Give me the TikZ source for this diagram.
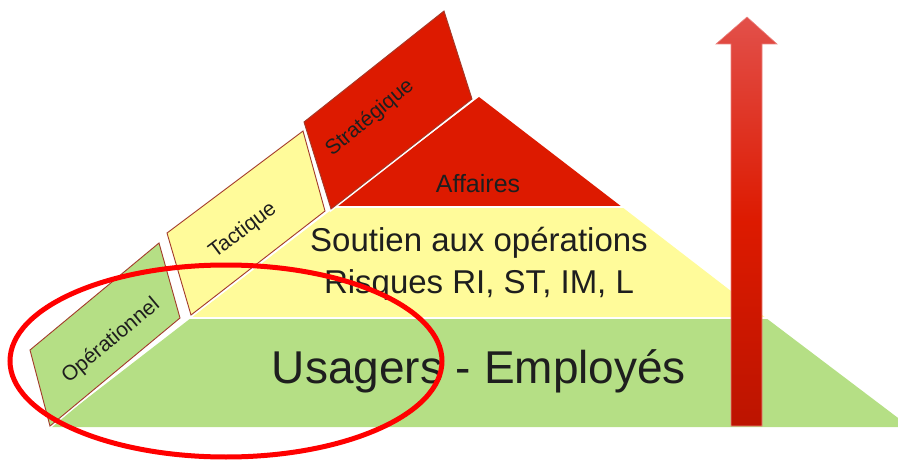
\documentclass[tikz,border=0pt]{standalone}
\usepackage{fontspec}
\setmainfont{Liberation Sans}

\definecolor{vert}{HTML}{B5DF85}
\definecolor{jaune}{HTML}{FFFB9A}
\definecolor{rouge}{HTML}{DD1A00}
\definecolor{bord}{HTML}{A33A2A}
\definecolor{texte}{HTML}{1E1E1E}
\definecolor{flechehaut}{HTML}{E2504A}
\definecolor{flechebas}{HTML}{BC1400}

\tikzset{
    niveau/.style={draw=bord, line width=.9pt, line join=miter},
    etiquette/.style={text=texte, inner sep=0pt, rotate=40,
        font=\fontsize{21}{24}\selectfont},
}

\begin{document}
\begin{tikzpicture}[x=1pt,y=-1pt]

    \useasboundingbox (0,0) rectangle (898,460);

    % pyramide
    \fill[vert]  (50,427) -- (191,318) -- (766,318) -- (910,427) -- cycle;
    \fill[jaune] (191,318) -- (335,207) -- (622,207) -- (766,318) -- cycle;
    \fill[rouge] (335,207) -- (479,97) -- (622,207) -- cycle;
    \draw[white, line width=2] (150,318) -- (800,318);
    \draw[white, line width=2] (300,207) -- (650,207);

    \node[text=texte, anchor=base, font=\fontsize{25}{28}\selectfont] (affaires) at (478,193) {Affaires};
    \node[text=texte, anchor=base, font=\fontsize{33}{38}\selectfont] (soutien) at (479,251) {Soutien aux opérations};
    \node[text=texte, anchor=base, font=\fontsize{33}{38}\selectfont] (risques) at (479,293) {Risques RI, ST, IM, L};
    \node[text=texte, anchor=base, font=\fontsize{46}{50}\selectfont] (usagers) at (479,383) {Usagers - Employés};

    % niveaux de gestion
    \foreach \coul/\ax/\ay/\bx/\by/\cx/\cy/\dx/\dy in {
        vert/50/426/30/350/159/243/180/318,
        jaune/191/315/167/233/303/131/325/211,
        rouge/331/209/304/122/444/11/472/99} {
        \draw[white, line width=4] (\ax,\ay) -- (\bx,\by) -- (\cx,\cy) -- (\dx,\dy) -- cycle;
        \draw[niveau, fill=\coul] (\ax,\ay) -- (\bx,\by) -- (\cx,\cy) -- (\dx,\dy) -- cycle;
    }

    \node[etiquette] (operationnel) at (111,341) {Opérationnel};
    \node[etiquette, rotate=-3] (tactique) at (243,231) {Tactique};
    \node[etiquette] (strategique) at (370,118) {Stratégique};

    % fleche
    \shade[top color=flechehaut, bottom color=flechebas, middle color=rouge,
           draw=flechehaut!70!white, line width=.6]
        (731,426) -- (731,44) -- (716,44) -- (747,17) -- (777,44) -- (762,44) -- (762,426) -- cycle;

    % cercle
    \draw[red, line width=5] (226,361) ellipse [x radius=216, y radius=96];

\end{tikzpicture}
\end{document}
